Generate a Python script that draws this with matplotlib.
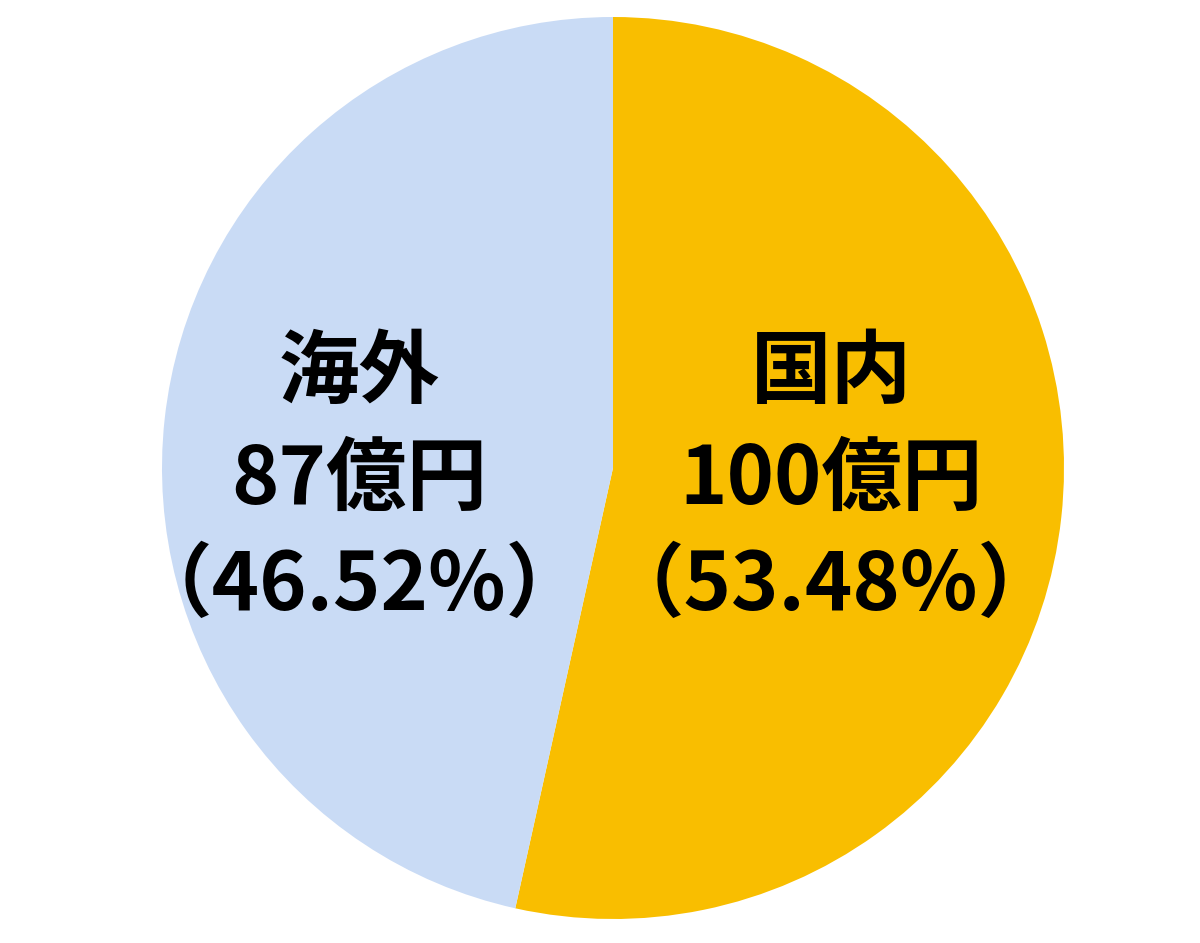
import matplotlib
matplotlib.use("Agg")
import matplotlib.pyplot as plt

# データ
labels = ["国内", "海外"]
values = [100, 87]          # 億円
shares = [53.48, 46.52]     # %
colors = ["#F9BE00", "#C9DBF5"]

plt.rcParams['font.family'] = ['Noto Sans CJK JP', 'DejaVu Sans']

fig = plt.figure(figsize=(12, 9.43), dpi=100)
ax = fig.add_axes([0, 0, 1, 1])

cx, cy, r = 613, 475, 451
ax.pie(values, colors=colors, startangle=90, counterclock=False,
       center=(cx, cy), radius=r, frame=True,
       wedgeprops=dict(linewidth=0))
ax.set_xlim(0, 1200)
ax.set_ylim(0, 943)
ax.set_aspect('equal')
ax.axis('off')

# ラベル位置
pos_x = [831, 359]
for lab, v, s, x in zip(labels, values, shares, pos_x):
    txt = "{}\n{}億円\n（{:.2f}%）".format(lab, v, s)
    ax.text(x, 463, txt, ha='center', va='center', fontsize=58,
            fontweight='bold', linespacing=1.40, color='black')

fig.savefig("out.png", dpi=100)
